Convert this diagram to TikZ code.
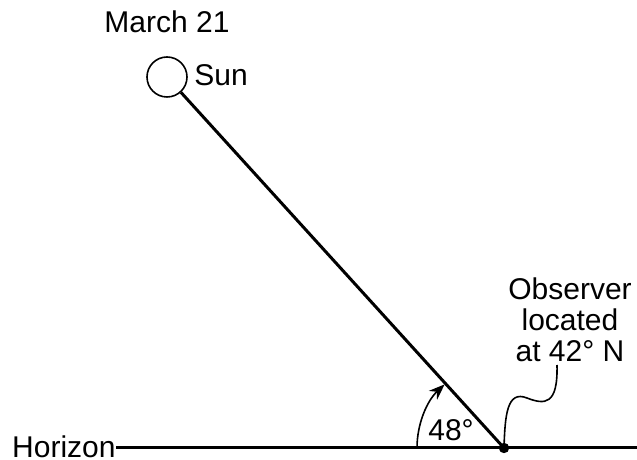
\documentclass[tikz,border=0pt]{standalone}
\usepackage{fontspec}
\setmainfont{Liberation Sans}
\usepackage{tikz}
\usetikzlibrary{arrows.meta, positioning}
\tikzset{
  lbl/.style={font=\fontsize{15}{14}\selectfont, inner sep=0pt},
  thin line/.style={line width=0.8pt},
  thick line/.style={line width=1.5pt}
}

\begin{document}
\begin{tikzpicture}[x=0.5pt, y=0.5pt]
  \useasboundingbox (0,0) rectangle (637,460);

  %% Sun and observer
  \node[circle, draw, thin line, minimum size=20pt, inner sep=0pt] (sun) at (167,383) {};
  \coordinate (obs) at (504,12);
  \node[lbl, anchor=west] (sunlbl) at (194,385) {Sun};
  \node[lbl] (date) at (167,438) {March 21};

  %% Horizon
  \node[lbl, anchor=east] (hor) at (116,13) {Horizon};
  \coordinate (horend) at (637,12);
  \draw[thick line] (hor.east |- obs) -- (horend);
  \draw[thick line] (sun) -- (obs);
  \fill (obs) circle (2.6pt);

  %% Angle
  \draw[thin line, -{Stealth[length=8pt, width=6pt]}] ([shift={(180:87)}]obs) arc[start angle=180, end angle=133, radius=87];
  \node[lbl] (ang) at (451,30) {48\textdegree};

  %% Observer label
  \node[lbl, align=center] (obslbl) at (570,140)
    {Observer\\[1.5pt]located\\[1.5pt]at 42\textdegree\ N};
  \coordinate (squig) at (557,95);
  \draw[thin line] (squig) .. controls (558,55) and (545,55) .. (527,62)
    .. controls (507,70) and (505,45) .. (obs);
\end{tikzpicture}
\end{document}
